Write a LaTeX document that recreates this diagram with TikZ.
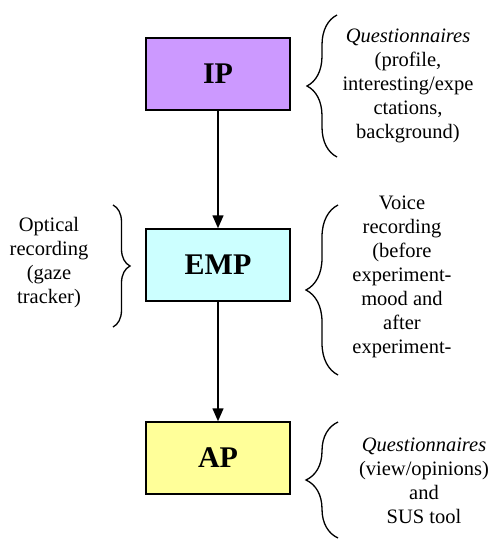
\documentclass[tikz,border=0pt]{standalone}
\usepackage{fontspec}
\setmainfont{Liberation Serif}
\usetikzlibrary{decorations.pathreplacing,arrows.meta}
\definecolor{ipfill}{HTML}{CC99FF}
\definecolor{empfill}{HTML}{CCFFFF}
\definecolor{apfill}{HTML}{FFFF99}
\tikzset{
  stage/.style={draw=black, line width=1.5pt, minimum width=144pt, minimum height=72pt,
    inner sep=0pt, font=\fontsize{30}{36}\selectfont\bfseries},
  flow/.style={line width=1.5pt, -{Triangle[length=13pt,width=11pt]}},
  curly/.style={line width=1.3pt, decorate},
  note/.style={align=center, inner sep=0pt, font=\fontsize{20.5}{24}\selectfont}
}
\begin{document}
\begin{tikzpicture}[x=1pt,y=-1pt]
\useasboundingbox (0,0) rectangle (496,540);

% process stages
\node[stage, fill=ipfill]  (ip)  at (218,74)  {IP};
\node[stage, fill=empfill] (emp) at (218,265) {EMP};
\node[stage, fill=apfill]  (ap)  at (218,458) {AP};

\draw[flow] (ip) -- (emp);
\draw[flow] (emp) -- (ap);

% braces
\draw[curly, decoration={brace, amplitude=30pt}] (337,157) -- (337,15);
\draw[curly, decoration={brace, amplitude=32pt}] (338,375) -- (338,205);
\draw[curly, decoration={brace, amplitude=32pt}] (338,538) -- (338,422);
\draw[curly, decoration={brace, amplitude=17pt}] (113,205) -- (113,327);

% annotations
\node[note] (q1) at (408,86) {\textit{Questionnaires}\\(profile,\\interesting/expe\\ctations,\\background)};
\node[note] (voice) at (402,277) {Voice\\recording\\(before\\experiment-\\mood and\\after\\experiment-};
\node[note] (q2) at (424,481) {\textit{Questionnaires}\\(view/opinions)\\and\\SUS tool};
\node[note] (gaze) at (49,263) {Optical\\recording\\(gaze\\tracker)};
\end{tikzpicture}
\end{document}
